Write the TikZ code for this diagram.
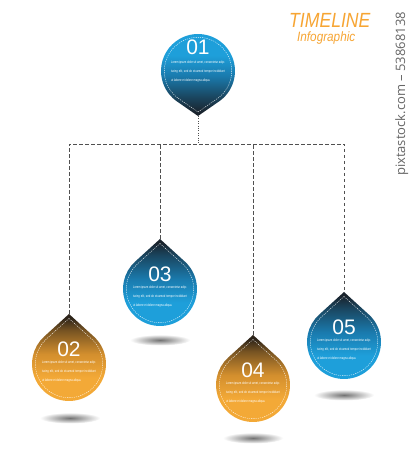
\documentclass[tikz,border=0pt]{standalone}
\usepackage{fontspec}
\setmainfont{Liberation Sans}
\newfontfamily\wmfont{Open Sans}
\usetikzlibrary{calc}
\definecolor{bbright}{HTML}{1E9FDA}
\definecolor{bmid}{HTML}{1A7AAD}
\definecolor{bdark}{HTML}{1A232C}
\definecolor{obright}{HTML}{F3A937}
\definecolor{omid}{HTML}{D38F2E}
\definecolor{odark}{HTML}{2C2319}
\definecolor{titleorange}{HTML}{F7A533}
\definecolor{linegray}{HTML}{505050}
\pgfdeclareverticalshading{blueup}{100bp}{color(0bp)=(bbright); color(40bp)=(bbright); color(53bp)=(bmid); color(66bp)=(bdark!60!bmid); color(73bp)=(bdark); color(100bp)=(bdark)}
\pgfdeclareverticalshading{orangeup}{100bp}{color(0bp)=(obright); color(40bp)=(obright); color(53bp)=(omid); color(66bp)=(odark!55!omid); color(73bp)=(odark); color(100bp)=(odark)}
\pgfdeclareverticalshading{bluedown}{100bp}{color(0bp)=(bdark); color(27bp)=(bdark); color(36bp)=(bdark!60!bmid); color(48bp)=(bmid); color(60bp)=(bbright); color(100bp)=(bbright)}
\tikzset{
  stitch/.style={draw=white, line width=0.4pt, dash pattern=on 1.2pt off 1pt, opacity=0.9},
  dashline/.style={draw=linegray, line width=0.8pt, dash pattern=on 3.5pt off 2.5pt},
  dotline/.style={draw=linegray, line width=0.8pt, dash pattern=on 1pt off 1.4pt},
  numtext/.style={text=white, font=\fontsize{21}{21}\selectfont, inner sep=0pt, anchor=base},
  bodytext/.style={text=white, font=\fontsize{3.6}{9.2}\selectfont, text width=72pt, align=justify, inner sep=0pt, xscale=0.75, anchor=north},
  shadowstyle/.style={inner color=black!55, outer color=white},
}
\newcommand\bodylorem{Lorem ipsum dolor sit amet, consectetur adipiscing elit, sed do eiusmod tempor incididunt ut labore et dolore magna aliqua.}
% #1 name, #2 cx, #3 cy (pixels from top), #4 shading, #5 number
\newcommand\updrop[5]{%
  \begin{scope}[shift={(#2,450-#3)}]
    \shade[shading=#4] (0,50) -- (47.7:37) arc[start angle=47.7,end angle=-227.7,radius=37] -- cycle;
    \draw[stitch] (0,45.5) -- (47.7:33.7) arc[start angle=47.7,end angle=-227.7,radius=33.7] -- cycle;
    \coordinate (#1tip) at (0,50);
    \node[circle, minimum size=74pt, inner sep=0pt] (#1) at (0,0) {};
    \node[numtext] (#1num) at (0,7.5) {#5};
    \node[bodytext] (#1txt) at (0,3.5) {\bodylorem};
  \end{scope}}
\begin{document}
\begin{tikzpicture}[x=1pt,y=1pt]
\useasboundingbox (0,0) rectangle (416,450);
\fill[white] (0,0) rectangle (416,450);
% shadows
\shade[shadowstyle] (70,450-418) ellipse [x radius=30, y radius=5.5];
\shade[shadowstyle] (160,450-340) ellipse [x radius=30, y radius=5.5];
\shade[shadowstyle] (253,450-438) ellipse [x radius=30, y radius=5.5];
\shade[shadowstyle] (344,450-395) ellipse [x radius=30, y radius=5.5];
% drop 01 (tip down)
\begin{scope}[shift={(198,450-71)}]
  \shade[shading=bluedown] (0,-45) -- (-53.6:37) arc[start angle=-53.6,end angle=233.6,radius=37] -- cycle;
  \draw[stitch] (0,-41) -- (-53.6:33.7) arc[start angle=-53.6,end angle=233.6,radius=33.7] -- cycle;
  \coordinate (d1tip) at (0,-45);
  \node[circle, minimum size=74pt, inner sep=0pt] (d1) at (0,0) {};
  \node[numtext] (d1num) at (0,16.5) {01};
  \node[bodytext] (d1txt) at (0,10.5) {\bodylorem};
\end{scope}
\updrop{d2}{69}{364}{orangeup}{02}
\updrop{d3}{160}{289}{blueup}{03}
\updrop{d4}{253}{385}{orangeup}{04}
\updrop{d5}{344}{342}{blueup}{05}
% connectors
\coordinate (j1) at (198,450-144);
\draw[dotline] (d1tip) -- (j1);
\draw[dashline] (d2tip) -- (d2tip |- j1) -- (d5tip |- j1) -- (d5tip);
\draw[dashline] (d3tip) -- (d3tip |- j1);
\draw[dashline] (d4tip) -- (d4tip |- j1);
% title
\node[text=titleorange, font=\fontsize{20.5}{20.5}\selectfont\itshape, anchor=base west, xscale=0.86, inner sep=0pt] (title) at (289,450-28) {TIMELINE};
\node[text=titleorange, font=\fontsize{13.5}{13.5}\selectfont\itshape, anchor=base west, xscale=0.87, inner sep=0pt] (subtitle) at (297,450-42) {Infographic};
% side text
\node[rotate=90, anchor=base, inner sep=0pt, text=black!60, font=\wmfont\fontsize{13}{13}\selectfont] (wm) at (405,450-94) {pixtastock.com – 53868138};
\end{tikzpicture}
\end{document}
